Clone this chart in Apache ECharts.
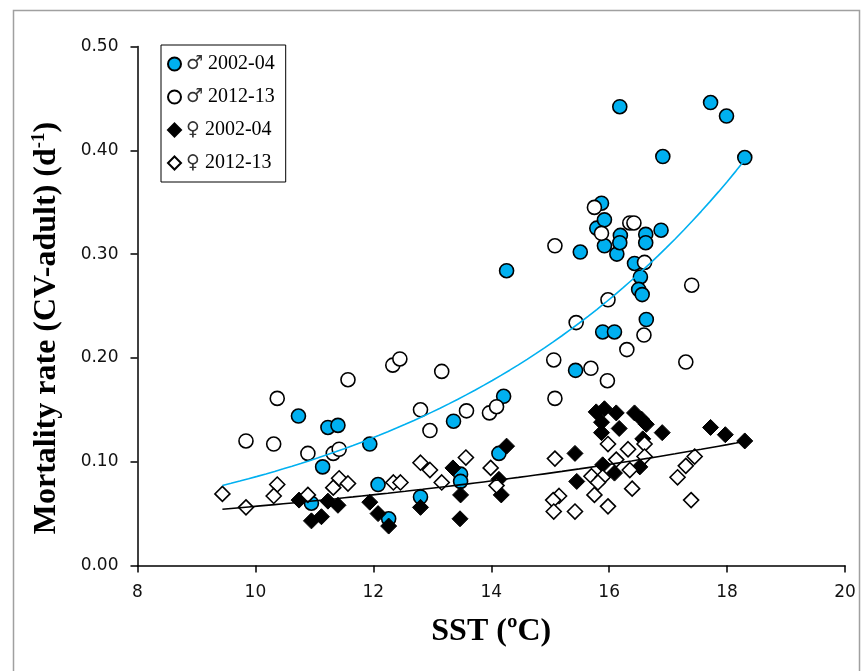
<!DOCTYPE html>
<html>
<head>
<meta charset="utf-8">
<script src="https://cdn.jsdelivr.net/npm/echarts@6/dist/echarts.min.js"></script>
<style>
  html, body { margin: 0; padding: 0; background: #fff; }
  #chart { width: 861px; height: 671px; }
</style>
</head>
<body>
<div id="chart"></div>
<script>
// Mortality rate (CV-adult stages) against sea surface temperature

// Males, 2002-04
const sstMale0204 = [10.73, 11.23, 11.40, 11.94, 11.14, 12.08, 10.95, 12.26, 12.80, 13.36,
  13.48, 13.48, 14.13, 14.21, 14.26, 15.43, 15.51, 15.87, 15.79, 15.92,
  15.92, 16.13, 16.19, 16.18, 16.62, 16.62, 16.88, 16.43, 16.53, 16.50,
  16.56, 16.63, 15.89, 16.09, 16.18, 16.91, 17.72, 17.99, 18.30];
const mortMale0204 = [0.144, 0.133, 0.135, 0.117, 0.095, 0.078, 0.060, 0.045, 0.066, 0.139,
  0.088, 0.081, 0.108, 0.163, 0.284, 0.188, 0.302, 0.349, 0.325, 0.333,
  0.308, 0.300, 0.318, 0.311, 0.319, 0.311, 0.323, 0.291, 0.278, 0.266,
  0.261, 0.237, 0.225, 0.225, 0.442, 0.394, 0.446, 0.433, 0.393];

// Males, 2012-13
const sstMale1213 = [9.84, 10.31, 10.37, 10.89, 11.32, 11.42, 11.57, 12.33, 12.45, 12.80,
  12.96, 13.16, 13.58, 13.97, 14.09, 15.06, 15.08, 15.08, 15.44, 15.69,
  15.97, 15.98, 16.30, 16.59, 16.60, 15.75, 15.87, 16.35, 16.42, 17.30, 17.40];
const mortMale1213 = [0.120, 0.117, 0.161, 0.108, 0.108, 0.112, 0.179, 0.193, 0.199, 0.150,
  0.130, 0.187, 0.149, 0.147, 0.153, 0.198, 0.161, 0.308, 0.234, 0.190,
  0.178, 0.256, 0.208, 0.222, 0.292, 0.345, 0.320, 0.330, 0.330, 0.196, 0.270];

// Females, 2002-04
const sstFemale0204 = [10.74, 10.95, 11.12, 11.23, 11.40, 11.94, 12.08, 12.26, 12.80, 13.35,
  13.48, 13.47, 14.17, 14.13, 14.26, 15.42, 15.45, 15.78, 15.92, 16.12,
  15.87, 15.87, 16.17, 16.43, 16.55, 16.63, 16.90, 16.57, 15.89, 16.09,
  16.52, 17.72, 17.97, 18.30];
const mortFemale0204 = [0.063, 0.043, 0.047, 0.062, 0.058, 0.061, 0.050, 0.038, 0.056, 0.094,
  0.068, 0.045, 0.068, 0.083, 0.115, 0.108, 0.081, 0.148, 0.151, 0.147,
  0.138, 0.128, 0.132, 0.147, 0.141, 0.136, 0.128, 0.122, 0.097, 0.089,
  0.095, 0.133, 0.126, 0.120];

// Females, 2012-13
const sstFemale1213 = [9.44, 9.84, 10.37, 10.31, 10.89, 11.32, 11.42, 11.57, 12.34, 12.46,
  12.80, 12.96, 13.16, 13.57, 13.99, 14.09, 15.08, 15.15, 15.05, 15.06,
  15.42, 15.98, 16.32, 16.60, 16.60, 16.12, 16.35, 15.70, 15.89, 15.81,
  15.75, 16.39, 15.98, 17.45, 17.30, 17.16, 17.39];
const mortFemale1213 = [0.069, 0.056, 0.078, 0.067, 0.068, 0.075, 0.084, 0.079, 0.080, 0.080,
  0.099, 0.092, 0.080, 0.104, 0.094, 0.077, 0.103, 0.067, 0.063, 0.052,
  0.052, 0.117, 0.112, 0.117, 0.105, 0.102, 0.092, 0.086, 0.085, 0.080,
  0.068, 0.074, 0.057, 0.105, 0.096, 0.085, 0.063];

const seriesNames = ['\u2642 2002-04', '\u2642 2012-13', '\u2640 2002-04', '\u2640 2012-13'];
const xTicks = [8, 10, 12, 14, 16, 18, 20];
const yTicks = [0, 0.1, 0.2, 0.3, 0.4, 0.5];

const pairs = (xs, ys) => xs.map((x, i) => [x, ys[i]]);

// Exponential least-squares fit y = a * exp(b x) (regression on ln y)
function expFit(xs, ys) {
  const n = xs.length;
  let sx = 0, sy = 0, sxx = 0, sxy = 0;
  for (let i = 0; i < n; i++) {
    const ly = Math.log(ys[i]);
    sx += xs[i]; sy += ly; sxx += xs[i] * xs[i]; sxy += xs[i] * ly;
  }
  const b = (n * sxy - sx * sy) / (n * sxx - sx * sx);
  const a = Math.exp((sy - b * sx) / n);
  return { a, b };
}

const allX = [].concat(sstMale0204, sstMale1213, sstFemale0204, sstFemale1213);
const xLo = Math.min(...allX), xHi = Math.max(...allX);

function fitCurve(xs, ys) {
  const f = expFit(xs, ys);
  const out = [];
  const steps = 60;
  for (let k = 0; k <= steps; k++) {
    const x = xLo + (xHi - xLo) * k / steps;
    out.push([x, f.a * Math.exp(f.b * x)]);
  }
  return out;
}

const maleFit = fitCurve(sstMale0204.concat(sstMale1213), mortMale0204.concat(mortMale1213));
const femaleFit = fitCurve(sstFemale0204.concat(sstFemale1213), mortFemale0204.concat(mortFemale1213));

const BLUE = '#00B0F0';
const TITLE_FONT = { fontFamily: 'Liberation Serif', fontWeight: 'bold', fontSize: 32, fill: '#000' };

const chart = echarts.init(document.getElementById('chart'), null, { renderer: 'canvas' });

chart.setOption({
  backgroundColor: '#fff',
  animation: false,
  graphic: [
    {
      type: 'rect',
      left: 11, top: 8,
      shape: { width: 846, height: 700 },
      style: { fill: 'none', stroke: '#a0a0a0', lineWidth: 1.5 },
      silent: true,
      z: -10
    },
    {
      // vertical axis title with superscript unit
      type: 'text',
      x: 47, y: 328,
      rotation: Math.PI / 2,
      silent: true,
      style: {
        text: '{a|Mortality rate (CV-adult) (d}{s|-1}{a|)}',
        align: 'center', verticalAlign: 'middle',
        rich: {
          a: Object.assign({}, TITLE_FONT, { lineHeight: 34 }),
          s: { fontFamily: 'Liberation Serif', fontWeight: 'bold', fontSize: 19, fill: '#000', lineHeight: 34, verticalAlign: 'top', padding: [0, 0, 12, 0] }
        }
      }
    }
  ],
  grid: { left: 137.5, right: 16, top: 46.5, bottom: 105.5, containLabel: false },
  legend: {
    data: seriesNames,
    orient: 'vertical',
    left: 161, top: 45,
    padding: [9, 11, 9, 6],
    itemGap: 13,
    itemWidth: 13, itemHeight: 13,
    borderColor: '#000', borderWidth: 1,
    backgroundColor: '#fff',
    formatter: name => '{g|' + name.charAt(0) + '}{t|' + name.slice(1) + '}',
    textStyle: {
      fontFamily: 'Liberation Serif', fontSize: 20, color: '#000',
      rich: {
        g: { fontFamily: 'DejaVu Sans', fontSize: 19, color: '#333' },
        t: { fontFamily: 'Liberation Serif', fontSize: 20, color: '#000' }
      }
    }
  },
  xAxis: {
    type: 'value', min: xTicks[0], max: xTicks[xTicks.length - 1], interval: 2,
    name: 'SST (\u00baC)', nameLocation: 'middle', nameGap: 50,
    nameTextStyle: { fontFamily: 'Liberation Serif', fontWeight: 'bold', fontSize: 32, color: '#000' },
    axisLine: { lineStyle: { color: '#000', width: 1.5 } },
    axisTick: { show: true, inside: false, length: 7, lineStyle: { color: '#000', width: 1.5 } },
    axisLabel: { margin: 19, fontFamily: 'DejaVu Sans', fontSize: 17, color: '#111' },
    splitLine: { show: false }
  },
  yAxis: {
    type: 'value', min: yTicks[0], max: yTicks[yTicks.length - 1], interval: 0.1,
    axisLine: { show: true, lineStyle: { color: '#000', width: 1.5 } },
    axisTick: { show: true, inside: false, length: 7, lineStyle: { color: '#000', width: 1.5 } },
    axisLabel: { margin: 19, fontFamily: 'DejaVu Sans', fontSize: 17, color: '#111', formatter: v => v.toFixed(2) },
    splitLine: { show: false }
  },
  series: [
    {
      name: seriesNames[0], type: 'scatter', data: pairs(sstMale0204, mortMale0204),
      symbol: 'circle', symbolSize: 14, z: 2,
      itemStyle: { color: BLUE, borderColor: '#000', borderWidth: 1.6, opacity: 1 }
    },
    {
      name: seriesNames[1], type: 'scatter', data: pairs(sstMale1213, mortMale1213),
      symbol: 'circle', symbolSize: 14, z: 3,
      itemStyle: { color: '#fff', borderColor: '#000', borderWidth: 1.6, opacity: 1 }
    },
    {
      name: seriesNames[2], type: 'scatter', data: pairs(sstFemale0204, mortFemale0204),
      symbol: 'diamond', symbolSize: 16, z: 4,
      itemStyle: { color: '#000', borderColor: '#000', borderWidth: 1, opacity: 1 }
    },
    {
      name: seriesNames[3], type: 'scatter', data: pairs(sstFemale1213, mortFemale1213),
      symbol: 'diamond', symbolSize: 15, z: 5,
      itemStyle: { color: '#fff', borderColor: '#000', borderWidth: 1.6, opacity: 1 }
    },
    {
      name: 'maleFit', type: 'line', data: maleFit, showSymbol: false, smooth: false, z: 6,
      lineStyle: { color: BLUE, width: 1.6 }, silent: true
    },
    {
      name: 'femaleFit', type: 'line', data: femaleFit, showSymbol: false, smooth: false, z: 6,
      lineStyle: { color: '#000', width: 1.6 }, silent: true
    }
  ]
});
</script>
</body>
</html>
